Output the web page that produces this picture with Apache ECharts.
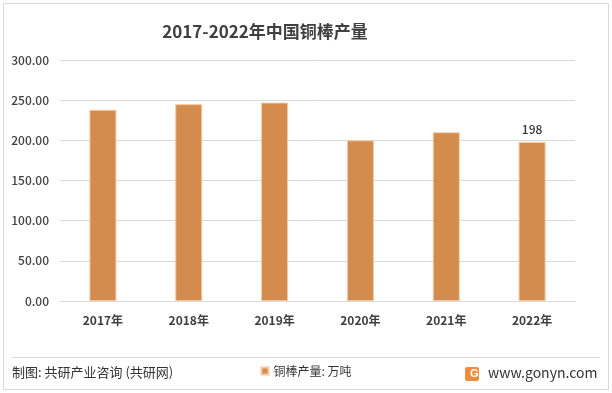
<!DOCTYPE html>
<html><head><meta charset="utf-8">
<script src="https://cdn.jsdelivr.net/npm/echarts@6/dist/echarts.min.js"></script>
<style>html,body{margin:0;padding:0;background:#fff}#c{width:612px;height:393px}</style>
</head><body><div id="c"></div>
<script>
const categories = ['2017年','2018年','2019年','2020年','2021年','2022年'];
const values = [238, 245, 247, 200, 210, 198];
const yTicks = [0, 50, 100, 150, 200, 250, 300];
const seriesName = '铜棒产量: 万吨';
const titleText = '2017-2022年中国铜棒产量';
const sourceText = '制图: 共研产业咨询 (共研网)';
const siteText = 'www.gonyn.com';

const font = '"Microsoft YaHei","Noto Sans CJK SC",sans-serif';
const chart = echarts.init(document.getElementById('c'), null, {renderer:'canvas'});
chart.setOption({
  animation:false,
  backgroundColor:'#fff',
  title:{text:titleText,left:260,top:18,textAlign:'center',
    textStyle:{fontFamily:font,fontSize:17,fontWeight:'bold',color:'#404040'}},
  legend:{data:[seriesName],left:'center',top:360,itemWidth:7,itemHeight:7,itemGap:4,
    icon:'rect',textStyle:{fontFamily:font,fontSize:12,color:'#333'}},
  grid:{left:60,right:37,top:60,bottom:92,containLabel:false},
  xAxis:{type:'category',data:categories,
    axisLine:{lineStyle:{color:'#d9d9d9'}},axisTick:{show:false},
    axisLabel:{fontFamily:font,fontSize:12,color:'#404040',fontWeight:'bold',margin:13}},
  yAxis:{type:'value',min:yTicks[0],max:yTicks[yTicks.length-1],interval:50,
    axisLine:{show:false},axisTick:{show:false},
    splitLine:{lineStyle:{color:'#d9d9d9'}},
    axisLabel:{fontFamily:font,fontSize:12,color:'#404040',fontWeight:500,margin:11,
      formatter:v=>v.toFixed(2)}},
  series:[{name:seriesName,type:'bar',data:values,barWidth:27,
    itemStyle:{color:'#D38B4E',borderColor:'#F3C9A2',borderWidth:1},
    label:{show:true,position:'top',distance:7,fontFamily:font,fontSize:12,fontWeight:500,color:'#333',
      formatter:p=>p.dataIndex===values.length-1?String(p.value):''}}],
  graphic:[
    {type:'rect',shape:{x:3.5,y:3.5,width:605,height:386},style:{fill:null,stroke:'#d9d9d9',lineWidth:1}},
    {type:'line',shape:{x1:12,y1:357.5,x2:600,y2:357.5},style:{stroke:'#d9d9d9',lineWidth:1}},
    {type:'text',left:12,top:366,style:{text:sourceText,font:'13px '+font,fill:'#333'}},
    {type:'rect',shape:{x:465,y:367,width:14,height:14,r:2},style:{fill:'#F08C3C'}},
    {type:'text',left:470,top:368,style:{text:'G',font:'bold 11px sans-serif',fill:'#fff'}},
    {type:'text',left:488,top:366,style:{text:siteText,font:'14px '+font,fill:'#333'}}
  ]
});
</script></body></html>
